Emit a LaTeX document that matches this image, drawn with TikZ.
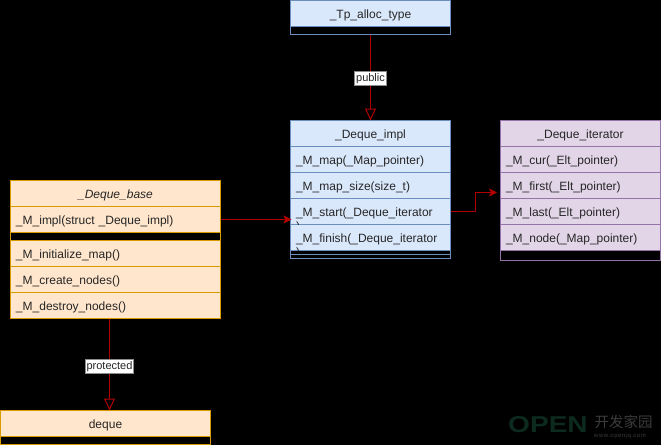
\documentclass[tikz,border=0pt]{standalone}
\usepackage{fontspec}
\setmainfont{Liberation Sans}
\newfontfamily\cjkfont{Noto Sans CJK SC}
\usetikzlibrary{arrows.meta, calc}
\definecolor{bluefill}{HTML}{DAE8FC}
\definecolor{blueline}{HTML}{6C8EBF}
\definecolor{orangefill}{HTML}{FFE6CC}
\definecolor{orangeline}{HTML}{D79B00}
\definecolor{purplefill}{HTML}{E1D5E7}
\definecolor{purpleline}{HTML}{9673A6}
\definecolor{linkred}{HTML}{B20000}
\definecolor{markgreen}{HTML}{0C2A1E}
\definecolor{markgrey}{HTML}{3C3C3C}
\tikzset{
  classframe/.style={draw, anchor=north west, outer sep=0pt, line width=1pt,
    minimum width=#1, inner sep=0pt},
  classframe/.default=160pt,
  classrow/.style={draw, anchor=north west, outer sep=0pt, line width=1pt,
    minimum width=#1, minimum height=26pt, inner xsep=5.5pt, inner ysep=0pt,
    text width=#1-11pt, align=left, text height=9pt, text depth=0pt,
    font=\fontsize{12}{14}\selectfont, text=black!85},
  classrow/.default=160pt,
  classhead/.style={classrow=#1, align=center},
  classhead/.default=160pt,
  bluebox/.style={draw=blueline, fill=bluefill},
  orangebox/.style={draw=orangeline, fill=orangefill},
  purplebox/.style={draw=purpleline, fill=purplefill},
  framed/.style={draw=#1, fill=none},
  inherit/.style={draw=linkred, line width=1pt,
    -{Triangle[open, length=12pt, width=11pt]}},
  assoc/.style={draw=linkred, line width=1pt,
    -{Stealth[length=8pt, width=8pt, inset=2pt]}},
  linklabel/.style={draw=black!45, fill=white, line width=1pt, inner xsep=1.5pt,
    inner ysep=0pt, minimum height=14pt, text=black!85,
    font=\fontsize{11}{13}\selectfont},
}

\begin{document}
\begin{tikzpicture}[x=1pt, y=-1pt]
  \useasboundingbox (0,0) rectangle (661,445);
  \fill[black] (0,0) rectangle (661,445);

  % top base class
  \node[classframe, framed=blueline, minimum height=34pt] (tpalloc) at (290.5,0.5) {};
  \node[classhead, bluebox] (tpallochead) at (290.5,0.5) {\_Tp\_alloc\_type};

  % implementation struct
  \node[classframe, framed=blueline, minimum height=138pt] (dequeimpl) at (290.5,120.5) {};
  \node[classhead, bluebox] (implhead) at (290.5,120.5) {\_Deque\_impl};
  \node[classrow, bluebox] (implmap) at (290.5,146.5) {\_M\_map(\_Map\_pointer)};
  \node[classrow, bluebox] (implsize) at (290.5,172.5) {\_M\_map\_size(size\_t)};
  \node[classrow, bluebox] (implstart) at (290.5,198.5) {\_M\_start(\_Deque\_iterator};
  \node[classrow, bluebox] (implfinish) at (290.5,224.5) {\_M\_finish(\_Deque\_iterator};
  \draw[blueline, line width=1pt] (implfinish.south west) ++(0,4) coordinate (impldiv) -- (impldiv -| implfinish.east);

  % wrapped closing brackets, cut off by their rows
  \foreach \rowname in {implstart,implfinish} {
    \begin{scope}
      \clip (\rowname.north west) rectangle (\rowname.south east);
      \node[anchor=base west, inner sep=0pt, text=black!85,
        font=\fontsize{12}{14}\selectfont] (\rowname paren)
        at ($(\rowname.west)+(5.5,18.5)$) {)};
    \end{scope}
  }

  % iterator
  \node[classframe, framed=purpleline, minimum height=140pt] (dequeiter) at (500.5,120.5) {};
  \node[classhead, purplebox] (iterhead) at (500.5,120.5) {\_Deque\_iterator};
  \node[classrow, purplebox] (itercur) at (500.5,146.5) {\_M\_cur(\_Elt\_pointer)};
  \node[classrow, purplebox] (iterfirst) at (500.5,172.5) {\_M\_first(\_Elt\_pointer)};
  \node[classrow, purplebox] (iterlast) at (500.5,198.5) {\_M\_last(\_Elt\_pointer)};
  \node[classrow, purplebox] (iternode) at (500.5,224.5) {\_M\_node(\_Map\_pointer)};

  % deque base
  \node[classframe=210pt, framed=orangeline, minimum height=138pt] (dequebase) at (10.5,180.5) {};
  \node[classhead=210pt, orangebox] (basehead) at (10.5,180.5) {\textit{\_Deque\_base}};
  \node[classrow=210pt, orangebox] (baseimpl) at (10.5,206.5) {\_M\_impl(struct \_Deque\_impl)};
  \node[classrow=210pt, orangebox] (baseinit) at (10.5,240.5) {\_M\_initialize\_map()};
  \node[classrow=210pt, orangebox] (basecreate) at (10.5,266.5) {\_M\_create\_nodes()};
  \node[classrow=210pt, orangebox] (basedestroy) at (10.5,292.5) {\_M\_destroy\_nodes()};

  % deque
  \node[classframe=210pt, framed=orangeline, minimum height=34pt] (deque) at (0.5,410.5) {};
  \node[classhead=210pt, orangebox] (dequehead) at (0.5,410.5) {deque};

  % connectors
  \draw[inherit] (tpalloc.south) -- node[linklabel, pos=.517] (publiclabel) {public} (dequeimpl.north);
  \draw[inherit] ([xshift=-6pt]dequebase.south) -- node[linklabel, pos=.522] (protectedlabel) {protected} ([xshift=4pt]deque.north);
  \draw[assoc] (baseimpl.east) -- ([xshift=1pt, yshift=-8pt]implstart.west);
  \draw[assoc] (implstart.east) -- ++(25,0) |- ([xshift=-3.5pt, yshift=-7pt]iterfirst.west);

  % mark in the corner
  \node[anchor=base west, inner sep=0pt, text=markgreen,
    font=\fontsize{23}{23}\selectfont\bfseries] (markopen) at (508,432.5) {\scalebox{1.22}[1]{OPEN}};
  \node[anchor=base west, inner sep=0pt, text=markgrey,
    font=\fontsize{14.5}{15}\cjkfont] (markcjk) at (594.5,427.5) {开发家园};
  \node[anchor=base west, inner sep=0pt, text=markgrey,
    font=\fontsize{6}{7}\selectfont\addfontfeatures{LetterSpace=8}] (markurl) at (594,437) {www.openjq.com};
\end{tikzpicture}
\end{document}
